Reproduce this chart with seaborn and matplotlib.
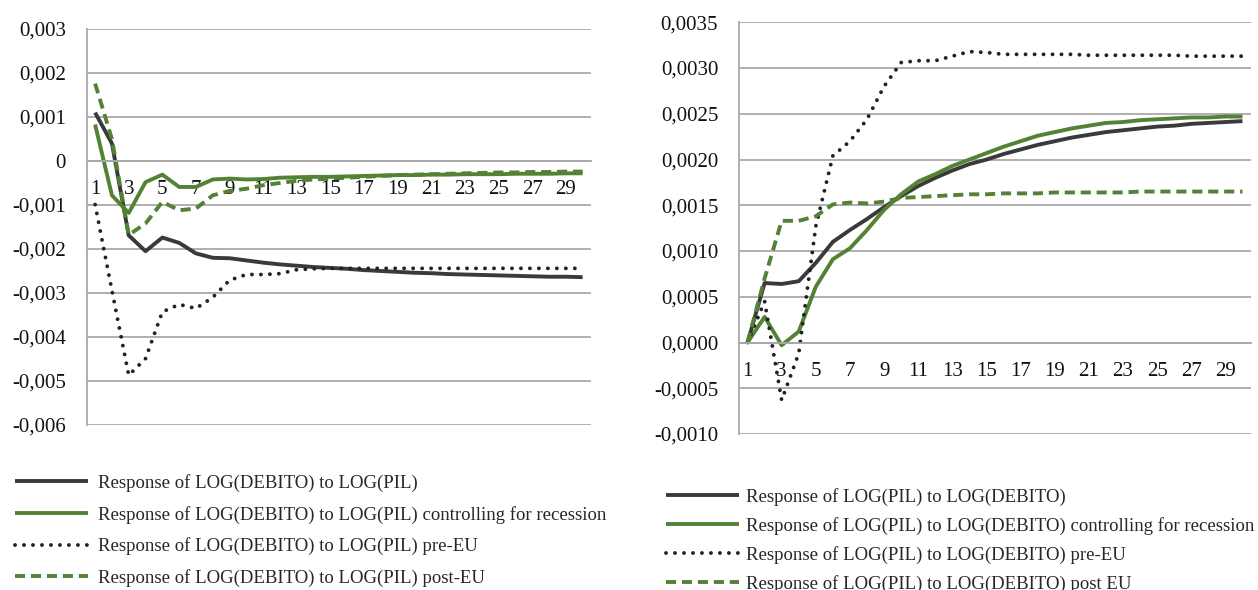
import numpy as np
import pandas as pd
import matplotlib
matplotlib.use("Agg")
import matplotlib.pyplot as plt
import matplotlib.ticker as mticker
import seaborn as sns

# Impulse-response horizons
periods = list(range(1, 31))

# Response of LOG(DEBITO) to LOG(PIL)
debt_base = [0.00110, 0.00040, -0.00169, -0.00205, -0.00174, -0.00186, -0.00210, -0.00220,
             -0.00221, -0.00226, -0.00231, -0.00235, -0.00238, -0.00241, -0.00243, -0.00245,
             -0.00248, -0.00250, -0.00252, -0.00254, -0.00255, -0.00257, -0.00258, -0.00259,
             -0.00260, -0.00261, -0.00262, -0.00263, -0.00263, -0.00264]
debt_recession = [0.00083, -0.00078, -0.00118, -0.00048, -0.00031, -0.00059, -0.00059, -0.00042,
                  -0.00040, -0.00042, -0.00041, -0.00038, -0.00037, -0.00036, -0.00036, -0.00035,
                  -0.00034, -0.00033, -0.00032, -0.00032, -0.00031, -0.00031, -0.00030, -0.00030,
                  -0.00030, -0.00029, -0.00029, -0.00029, -0.00028, -0.00028]
debt_pre_eu = [-0.00099, -0.00294, -0.00487, -0.00449, -0.00343, -0.00326, -0.00335, -0.00310,
               -0.00271, -0.00258, -0.00258, -0.00256, -0.00247, -0.00245, -0.00244, -0.00244,
               -0.00244, -0.00244, -0.00244, -0.00244, -0.00244, -0.00244, -0.00244, -0.00244,
               -0.00244, -0.00244, -0.00244, -0.00244, -0.00244, -0.00244]
debt_post_eu = [0.00176, 0.00050, -0.00168, -0.00142, -0.00093, -0.00112, -0.00108, -0.00078,
                -0.00068, -0.00063, -0.00055, -0.00050, -0.00045, -0.00042, -0.00040, -0.00038,
                -0.00036, -0.00034, -0.00032, -0.00031, -0.00030, -0.00029, -0.00028, -0.00027,
                -0.00026, -0.00026, -0.00025, -0.00025, -0.00024, -0.00024]

# Response of LOG(PIL) to LOG(DEBITO)
gdp_base = [0.00000, 0.00065, 0.00064, 0.00067, 0.00087, 0.00110, 0.00123, 0.00135,
            0.00148, 0.00160, 0.00171, 0.00180, 0.00188, 0.00195, 0.00200, 0.00206,
            0.00211, 0.00216, 0.00220, 0.00224, 0.00227, 0.00230, 0.00232, 0.00234,
            0.00236, 0.00237, 0.00239, 0.00240, 0.00241, 0.00242]
gdp_recession = [0.00000, 0.00028, -0.00003, 0.00012, 0.00061, 0.00091, 0.00103, 0.00123,
                 0.00145, 0.00162, 0.00176, 0.00184, 0.00193, 0.00200, 0.00207, 0.00214,
                 0.00220, 0.00226, 0.00230, 0.00234, 0.00237, 0.00240, 0.00241, 0.00243,
                 0.00244, 0.00245, 0.00246, 0.00246, 0.00247, 0.00247]
gdp_pre_eu = [0.00000, 0.00045, -0.00063, -0.00012, 0.00127, 0.00204, 0.00220, 0.00244,
              0.00280, 0.00306, 0.00308, 0.00308, 0.00313, 0.00318, 0.00317, 0.00315,
              0.00315, 0.00315, 0.00315, 0.00315, 0.00314, 0.00314, 0.00314, 0.00314,
              0.00314, 0.00314, 0.00313, 0.00313, 0.00313, 0.00313]
gdp_post_eu = [0.00000, 0.00070, 0.00133, 0.00133, 0.00138, 0.00151, 0.00153, 0.00152,
               0.00154, 0.00158, 0.00159, 0.00160, 0.00161, 0.00162, 0.00162, 0.00163,
               0.00163, 0.00163, 0.00164, 0.00164, 0.00164, 0.00164, 0.00164, 0.00165,
               0.00165, 0.00165, 0.00165, 0.00165, 0.00165, 0.00165]

left_labels = ["Response of LOG(DEBITO) to LOG(PIL)",
               "Response of LOG(DEBITO) to LOG(PIL) controlling for recession",
               "Response of LOG(DEBITO) to LOG(PIL) pre-EU",
               "Response of LOG(DEBITO) to LOG(PIL) post-EU"]
right_labels = ["Response of LOG(PIL) to LOG(DEBITO)",
                "Response of LOG(PIL) to LOG(DEBITO) controlling for recession",
                "Response of LOG(PIL) to LOG(DEBITO) pre-EU",
                "Response of LOG(PIL) to LOG(DEBITO) post EU"]

left_yticks = [0.003, 0.002, 0.001, 0.0, -0.001, -0.002, -0.003, -0.004, -0.005, -0.006]
right_yticks = [0.0035, 0.0030, 0.0025, 0.0020, 0.0015, 0.0010, 0.0005, 0.0, -0.0005, -0.0010]
xtick_labels = list(range(1, 30, 2))

sns.set_theme(style="white")
plt.rcParams["font.family"] = ["Liberation Serif", "DejaVu Serif"]

DARK = "#3a3a3a"
GREEN = "#548235"
GRID = "#a9a9a9"
LW = 2.8
styles = [
    dict(color=DARK, linestyle="-", solid_capstyle="butt"),
    dict(color=GREEN, linestyle="-", solid_capstyle="butt"),
    dict(color="#222222", linestyle=(0, (0.01, 2.3)), dash_capstyle="round"),
    dict(color=GREEN, linestyle=(0, (2.6, 1.5)), dash_capstyle="butt"),
]

W, H = 1258, 590
fig = plt.figure(figsize=(W / 100, H / 100), dpi=100)
ax_l = fig.add_axes([86.7 / W, 1 - 425 / H, (591 - 86.7) / W, (425 - 29) / H])
ax_r = fig.add_axes([739 / W, 1 - 434 / H, (1251 - 739) / W, (434 - 22.3) / H])


def draw_panel(ax, series, labels, yticks, fmt, ylim, leg_anchor, leg_spacing, text_pad):
    df = pd.DataFrame({"period": periods})
    handles = []
    for vals, lab, st in zip(series, labels, styles):
        df[lab] = vals
        sns.lineplot(data=df, x="period", y=lab, ax=ax, lw=LW, label=lab, legend=False, **st)
        handles.append(ax.lines[-1])
    ax.set_xlim(0.5, 30.5)
    ax.set_ylim(*ylim)
    ax.set_yticks(yticks)
    ax.yaxis.set_major_formatter(mticker.FuncFormatter(lambda v, p: fmt(v)))
    ax.set_xticks(xtick_labels)
    ax.set_xticklabels([str(v) for v in xtick_labels])
    ax.set_xlabel("")
    ax.set_ylabel("")
    ax.grid(axis="y", color=GRID, lw=1.3)
    ax.grid(axis="x", visible=False)
    ax.set_axisbelow(True)
    for side in ("top", "right"):
        ax.spines[side].set_visible(False)
    ax.spines["left"].set_color(GRID)
    ax.spines["left"].set_linewidth(1.3)
    ax.spines["bottom"].set_position(("data", 0))
    ax.spines["bottom"].set_color(GRID)
    ax.spines["bottom"].set_linewidth(1.3)
    ax.tick_params(axis="y", length=0, pad=15, labelsize=15, labelcolor="#111111")
    ax.tick_params(axis="x", length=0, pad=14, labelsize=15, labelcolor="#111111")
    fig.legend(handles=handles, labels=labels, loc="upper left",
               bbox_to_anchor=leg_anchor, frameon=False, borderaxespad=0, borderpad=0,
               fontsize=13.5, handlelength=3.9, handletextpad=text_pad,
               labelspacing=leg_spacing)


def fmt_left(v):
    if abs(v) < 1e-12:
        return "0"
    return f"{v:.3f}".replace(".", ",")


def fmt_right(v):
    if abs(v) < 1e-12:
        v = 0.0
    return f"{v:.4f}".replace(".", ",").replace("-0,0000", "0,0000")


draw_panel(ax_l, [debt_base, debt_recession, debt_pre_eu, debt_post_eu], left_labels,
           left_yticks, fmt_left, (-0.006, 0.003), (15 / W, 1 - 474 / H), 0.73, 0.5)
draw_panel(ax_r, [gdp_base, gdp_recession, gdp_pre_eu, gdp_post_eu], right_labels,
           right_yticks, fmt_right, (-0.0010, 0.0035), (666 / W, 1 - 488 / H), 0.59, 0.35)

fig.savefig("out.png", dpi=100)
